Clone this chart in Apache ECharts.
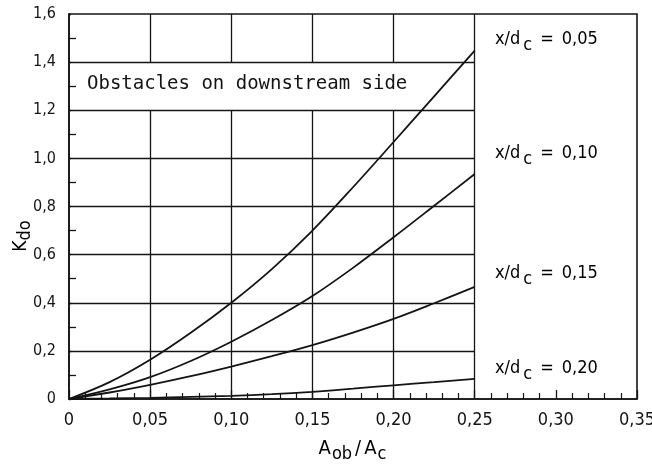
<!DOCTYPE html>
<html><head><meta charset="utf-8">
<script src="https://cdn.jsdelivr.net/npm/echarts@6/dist/echarts.min.js"></script>
<style>html,body{margin:0;padding:0;background:#fff}#c{width:652px;height:464px}</style>
</head><body><div id="c"></div>
<script>
// Shared x positions (A_ob / A_c) for all curves
const xValues = [0, 0.025, 0.05, 0.075, 0.10, 0.125, 0.15, 0.175, 0.20, 0.225, 0.25];
// K_do for each x/d_c
const kdo005 = [0, 0.070, 0.163, 0.275, 0.400, 0.540, 0.700, 0.880, 1.068, 1.258, 1.448];
const kdo010 = [0, 0.040, 0.091, 0.158, 0.238, 0.328, 0.428, 0.545, 0.672, 0.803, 0.935];
const kdo015 = [0, 0.027, 0.059, 0.095, 0.135, 0.178, 0.224, 0.276, 0.333, 0.398, 0.466];
const kdo020 = [0, 0.002, 0.005, 0.009, 0.013, 0.020, 0.030, 0.043, 0.057, 0.070, 0.084];
const curveLabels = ['0,05', '0,10', '0,15', '0,20'];
const xTickLabels = ['0', '0,05', '0,10', '0,15', '0,20', '0,25', '0,30', '0,35'];
const yTickLabels = ['0', '0,2', '0,4', '0,6', '0,8', '1,0', '1,2', '1,4', '1,6'];
const annotation = 'Obstacles on downstream side';

const INK = '#141414';
const NARROW = "'Liberation Sans Narrow', 'DejaVu Sans Condensed', 'Liberation Sans', sans-serif";
const MONO = "'DejaVu Sans Mono', 'Liberation Mono', monospace";

// grid lines (only inside the chart region x<=0.25, broken by the annotation band)
const gridSegs = [];
for (let i = 1; i <= 7; i++) gridSegs.push([[0, i * 0.2], [0.25, i * 0.2]]);
for (let i = 1; i <= 4; i++) {
  gridSegs.push([[i * 0.05, 0], [i * 0.05, 1.2]]);
  gridSegs.push([[i * 0.05, 1.4], [i * 0.05, 1.6]]);
}
gridSegs.push([[0.25, 0], [0.25, 1.6]]);

function pairs(ys) { return xValues.map((x, i) => [x, ys[i]]); }
const curves = [kdo005, kdo010, kdo015, kdo020];

const chart = echarts.init(document.getElementById('c'), null, {renderer: 'canvas'});

const labelTops = [30, 144, 264, 359];
const richLbl = {
  n: {fontFamily: NARROW, fontSize: 18, color: INK, lineHeight: 20, verticalAlign: 'top'},
  s: {fontFamily: NARROW, fontSize: 18, color: INK, lineHeight: 20, verticalAlign: 'top', padding: [6, 0, 0, 3]},
  e: {fontFamily: NARROW, fontSize: 18, color: INK, lineHeight: 20, verticalAlign: 'top', padding: [0, 0, 0, 8]},
  v: {fontFamily: NARROW, fontSize: 18, color: INK, lineHeight: 20, verticalAlign: 'top', padding: [0, 0, 0, 8]}
};

const graphics = curveLabels.map((lab, i) => ({
  type: 'text', left: 495, top: labelTops[i], z: 10,
  style: {text: '{n|x/d}{s|c}{e|=}{v|' + lab + '}', rich: richLbl}
}));
graphics.push({
  type: 'text', x: 87, y: 84, z: 10,
  style: {text: annotation, font: '19px ' + MONO, fill: INK, align: 'left', verticalAlign: 'middle'}
});
graphics.push({
  type: 'text', x: 353, y: 450, z: 10,
  style: {
    text: '{a|A}{b|ob}{s|/}{a|A}{b|c}', align: 'center', verticalAlign: 'middle',
    rich: {
      a: {fontFamily: NARROW, fontSize: 20, color: INK, lineHeight: 22, verticalAlign: 'top'},
      s: {fontFamily: NARROW, fontSize: 20, color: INK, lineHeight: 22, verticalAlign: 'top', padding: [0, 3, 0, 2]},
      b: {fontFamily: NARROW, fontSize: 18, color: INK, lineHeight: 20, verticalAlign: 'top', padding: [6, 1, 0, 1]}
    }
  }
});
graphics.push({
  type: 'text', x: 22, y: 236, rotation: Math.PI / 2, z: 10,
  style: {
    text: '{a|K}{b|do}', align: 'center', verticalAlign: 'middle',
    rich: {
      a: {fontFamily: NARROW, fontSize: 19, color: INK, lineHeight: 20, verticalAlign: 'top'},
      b: {fontFamily: NARROW, fontSize: 18, color: INK, lineHeight: 20, verticalAlign: 'top', padding: [4, 0, 0, 0]}
    }
  }
});

const series = [{
  type: 'line', data: [[0, 0]], symbol: 'none', lineStyle: {width: 0}, silent: true, z: 1,
  markLine: {
    silent: true, symbol: ['none', 'none'], animation: false,
    label: {show: false},
    lineStyle: {color: INK, width: 1.3, type: 'solid'},
    emphasis: {disabled: true},
    data: gridSegs.map(s => [{coord: s[0]}, {coord: s[1]}])
  }
}];
curves.forEach((ys, i) => series.push({
  type: 'line', name: curveLabels[i], data: pairs(ys), smooth: 0.35, symbol: 'none', z: 3,
  lineStyle: {color: INK, width: 1.8}, silent: true
}));

chart.setOption({
  animation: false,
  backgroundColor: '#fff',
  grid: {left: 69, right: 15, top: 14, bottom: 65, show: true, borderColor: INK, borderWidth: 1.6,
         backgroundColor: 'transparent', containLabel: false, outerBoundsMode: 'none'},
  xAxis: {
    type: 'value', min: 0, max: 0.35, interval: 0.05,
    axisLine: {lineStyle: {color: INK, width: 1.6}},
    axisTick: {show: true, inside: true, length: 9, lineStyle: {color: INK, width: 1.3}},
    minorTick: {show: true, splitNumber: 5, length: 6, lineStyle: {color: INK, width: 1.2}},
    splitLine: {show: false},
    axisLabel: {
      margin: 12, color: INK, fontFamily: NARROW, fontSize: 18, hideOverlap: false,
      formatter: v => xTickLabels[Math.round(v / 0.05)]
    }
  },
  yAxis: {
    type: 'value', min: 0, max: 1.6, interval: 0.2,
    axisLine: {lineStyle: {color: INK, width: 1.6}},
    axisTick: {show: true, inside: true, length: 2, lineStyle: {color: INK, width: 1.3}},
    minorTick: {show: true, splitNumber: 2, length: 7, lineStyle: {color: INK, width: 1.3}},
    splitLine: {show: false},
    axisLabel: {
      margin: 13, color: INK, fontFamily: NARROW, fontSize: 16,
      formatter: v => yTickLabels[Math.round(v / 0.2)]
    }
  },
  graphic: graphics,
  series: series
});
</script>
</body></html>
